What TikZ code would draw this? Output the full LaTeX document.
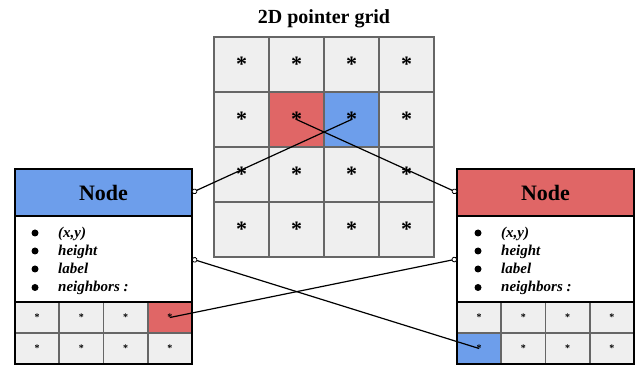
\documentclass[tikz,border=0pt]{standalone}
\usepackage{fontspec}
\setmainfont{Liberation Serif}
\usetikzlibrary{arrows.meta}
\definecolor{nblue}{HTML}{6D9EEB}
\definecolor{nred}{HTML}{E06666}
\definecolor{cellgray}{HTML}{EFEFEF}
\definecolor{gridline}{HTML}{666666}
\tikzset{
  bigcell/.style={draw=gridline, line width=2pt, minimum width=55pt, minimum height=55pt,
    inner sep=0pt, outer sep=0pt, anchor=north west, font=\bfseries\fontsize{22}{22}\selectfont},
  smallcell/.style={draw=gridline, line width=1.6pt, minimum width=44.25pt, minimum height=31pt,
    inner sep=0pt, outer sep=0pt, anchor=north west, font=\bfseries\fontsize{10}{10}\selectfont},
  hdr/.style={draw=black, line width=2pt, minimum width=177pt, minimum height=47pt,
    inner sep=0pt, outer sep=0pt, anchor=north west, font=\bfseries\fontsize{22}{22}\selectfont},
  bodybox/.style={draw=black, line width=2pt, fill=white, minimum width=177pt, minimum height=86pt,
    inner sep=0pt, outer sep=0pt, anchor=north west},
  item/.style={anchor=base west, inner sep=0pt, font=\bfseries\itshape\fontsize{15}{15}\selectfont},
  bul/.style={circle, fill=black, inner sep=0pt, minimum size=7pt},
  outline/.style={draw=black, line width=2pt, minimum width=177pt, minimum height=195pt,
    inner sep=0pt, outer sep=0pt, anchor=north west},
  conn/.style={line width=1.2pt, {Circle[fill=white, length=5.5pt, width=5.5pt, line width=0.8pt]}-},
  ttl/.style={font=\bfseries\fontsize{20}{20}\selectfont, inner sep=0pt}
}
\begin{document}
\begin{tikzpicture}[x=1pt,y=-1pt]
\useasboundingbox (0,0) rectangle (635,366);
% title
\node[ttl] (title) at (324,19) {2D pointer grid};
% main grid
\foreach \r in {0,...,3}{\foreach \c in {0,...,3}{
  \def\cf{cellgray}
  \ifnum\r\c=11 \def\cf{nred}\fi
  \ifnum\r\c=12 \def\cf{nblue}\fi
  \node[bigcell, fill=\cf] (g\r\c) at ({214+55*\c},{37+55*\r}) {*};
}}
% left node
\node[hdr, fill=nblue] (lh) at (15,169) {Node};
\node[bodybox] (lb) at (15,216) {};
\node[bul] (lb1) at (35,233) {};
\node[bul] (lb2) at (35,251) {};
\node[bul] (lb3) at (35,269) {};
\node[bul] (lb4) at (35,287.5) {};
\node[item] (li1) at (58,237.5) {(x,y)};
\node[item] (li2) at (58,255.5) {height};
\node[item] (li3) at (58,273.5) {label};
\node[item] (li4) at (58,292) {neighbors :};
\foreach \r in {0,1}{\foreach \c in {0,...,3}{
  \def\cf{cellgray}
  \ifnum\r\c=3 \def\cf{nred}\fi
  \node[smallcell, fill=\cf] (l\r\c) at ({15+44.25*\c},{302+31*\r}) {*};
}}
\node[outline] (lo) at (15,169) {};
\draw[line width=2pt] (lb.south west) -- (lb.south east);
% right node
\node[hdr, fill=nred] (rh) at (457,169) {Node};
\node[bodybox] (rb) at (457,216) {};
\node[bul] (rb1) at (478,233) {};
\node[bul] (rb2) at (478,251) {};
\node[bul] (rb3) at (478,269) {};
\node[bul] (rb4) at (478,287.5) {};
\node[item] (ri1) at (501,237.5) {(x,y)};
\node[item] (ri2) at (501,255.5) {height};
\node[item] (ri3) at (501,273.5) {label};
\node[item] (ri4) at (501,292) {neighbors :};
\foreach \r in {0,1}{\foreach \c in {0,...,3}{
  \def\cf{cellgray}
  \ifnum\r\c=10 \def\cf{nblue}\fi
  \node[smallcell, fill=\cf] (r\r\c) at ({457+44.25*\c},{302+31*\r}) {*};
}}
\node[outline] (ro) at (457,169) {};
\draw[line width=2pt] (rb.south west) -- (rb.south east);
% connectors
\draw[conn] (lh.east) -- (g12.center);
\draw[conn] (rh.west) -- (g11.center);
\draw[conn] (lb.east) -- (r10.center);
\draw[conn] (rb.west) -- (l03.center);
\end{tikzpicture}
\end{document}
